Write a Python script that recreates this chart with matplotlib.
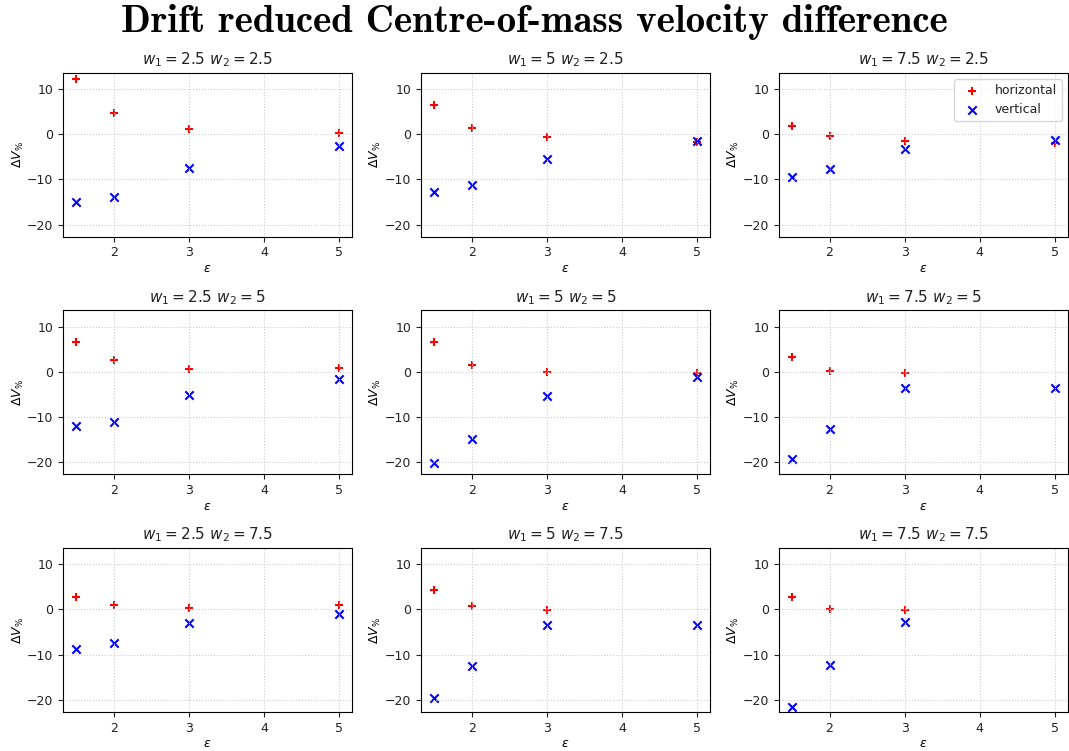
import matplotlib.pyplot as plt
import numpy as np

eps = [1.5, 2, 3, 5]
w1_vals = [2.5, 5, 7.5]
w2_vals = [2.5, 5, 7.5]

# horizontal / vertical drift reduced velocity difference, rows = w2, cols = w1
horizontal = [
    [[12.2, 4.8, 1.2, 0.2], [6.4, 1.3, -0.7, -1.7], [1.9, -0.4, -1.6, -2.0]],
    [[6.7, 2.6, 0.6, 0.9], [6.6, 1.6, 0.0, -0.3], [3.2, 0.2, -0.3, np.nan]],
    [[2.7, 1.0, 0.3, 0.9], [4.3, 0.8, -0.1, np.nan], [2.7, 0.2, -0.1, np.nan]],
]
vertical = [
    [[-15.0, -14.0, -7.4, -2.5], [-12.8, -11.3, -5.4, -1.4], [-9.5, -7.8, -3.2, -1.2]],
    [[-11.9, -11.0, -5.2, -1.5], [-20.3, -14.8, -5.3, -1.1], [-19.2, -12.7, -3.6, -3.5]],
    [[-8.7, -7.5, -3.0, -1.0], [-19.5, -12.6, -3.5, -3.5], [-21.5, -12.2, -2.7, np.nan]],
]

plt.rcParams.update({
    "font.size": 9,
    "axes.titlesize": 11,
    "axes.labelsize": 9,
    "xtick.labelsize": 9,
    "ytick.labelsize": 9,
    "legend.fontsize": 9,
    "text.color": "#222222",
    "xtick.color": "#222222",
    "ytick.color": "#222222",
})

fig, axes = plt.subplots(3, 3, figsize=(10.69, 7.51), dpi=100)
fig.subplots_adjust(left=0.059, right=0.999, top=0.903, bottom=0.052,
                    wspace=0.238, hspace=0.45)

for i, w2 in enumerate(w2_vals):
    for j, w1 in enumerate(w1_vals):
        ax = axes[i, j]
        ax.scatter(eps, horizontal[i][j], marker="+", color="red", s=36, label="horizontal")
        ax.scatter(eps, vertical[i][j], marker="x", color="blue", s=36, label="vertical")
        ax.set_title(rf"$w_1 = {w1:g}\ w_2 = {w2:g}$")
        ax.set_xlabel(r"$\varepsilon$", labelpad=2)
        ax.set_ylabel(r"$\Delta V_{\%}$", labelpad=1)
        ax.set_xlim(1.325, 5.175)
        ax.set_ylim(-22.7, 13.6)
        ax.set_xticks([2, 3, 4, 5])
        ax.grid(True, linestyle=":", color="#cccccc")
        if i == 0 and j == 2:
            ax.legend(loc="upper right")

fig.suptitle("Drift reduced Centre-of-mass velocity difference",
             fontfamily="cmb10", fontsize=28, color="black", y=0.995)
fig.savefig("out.png")
